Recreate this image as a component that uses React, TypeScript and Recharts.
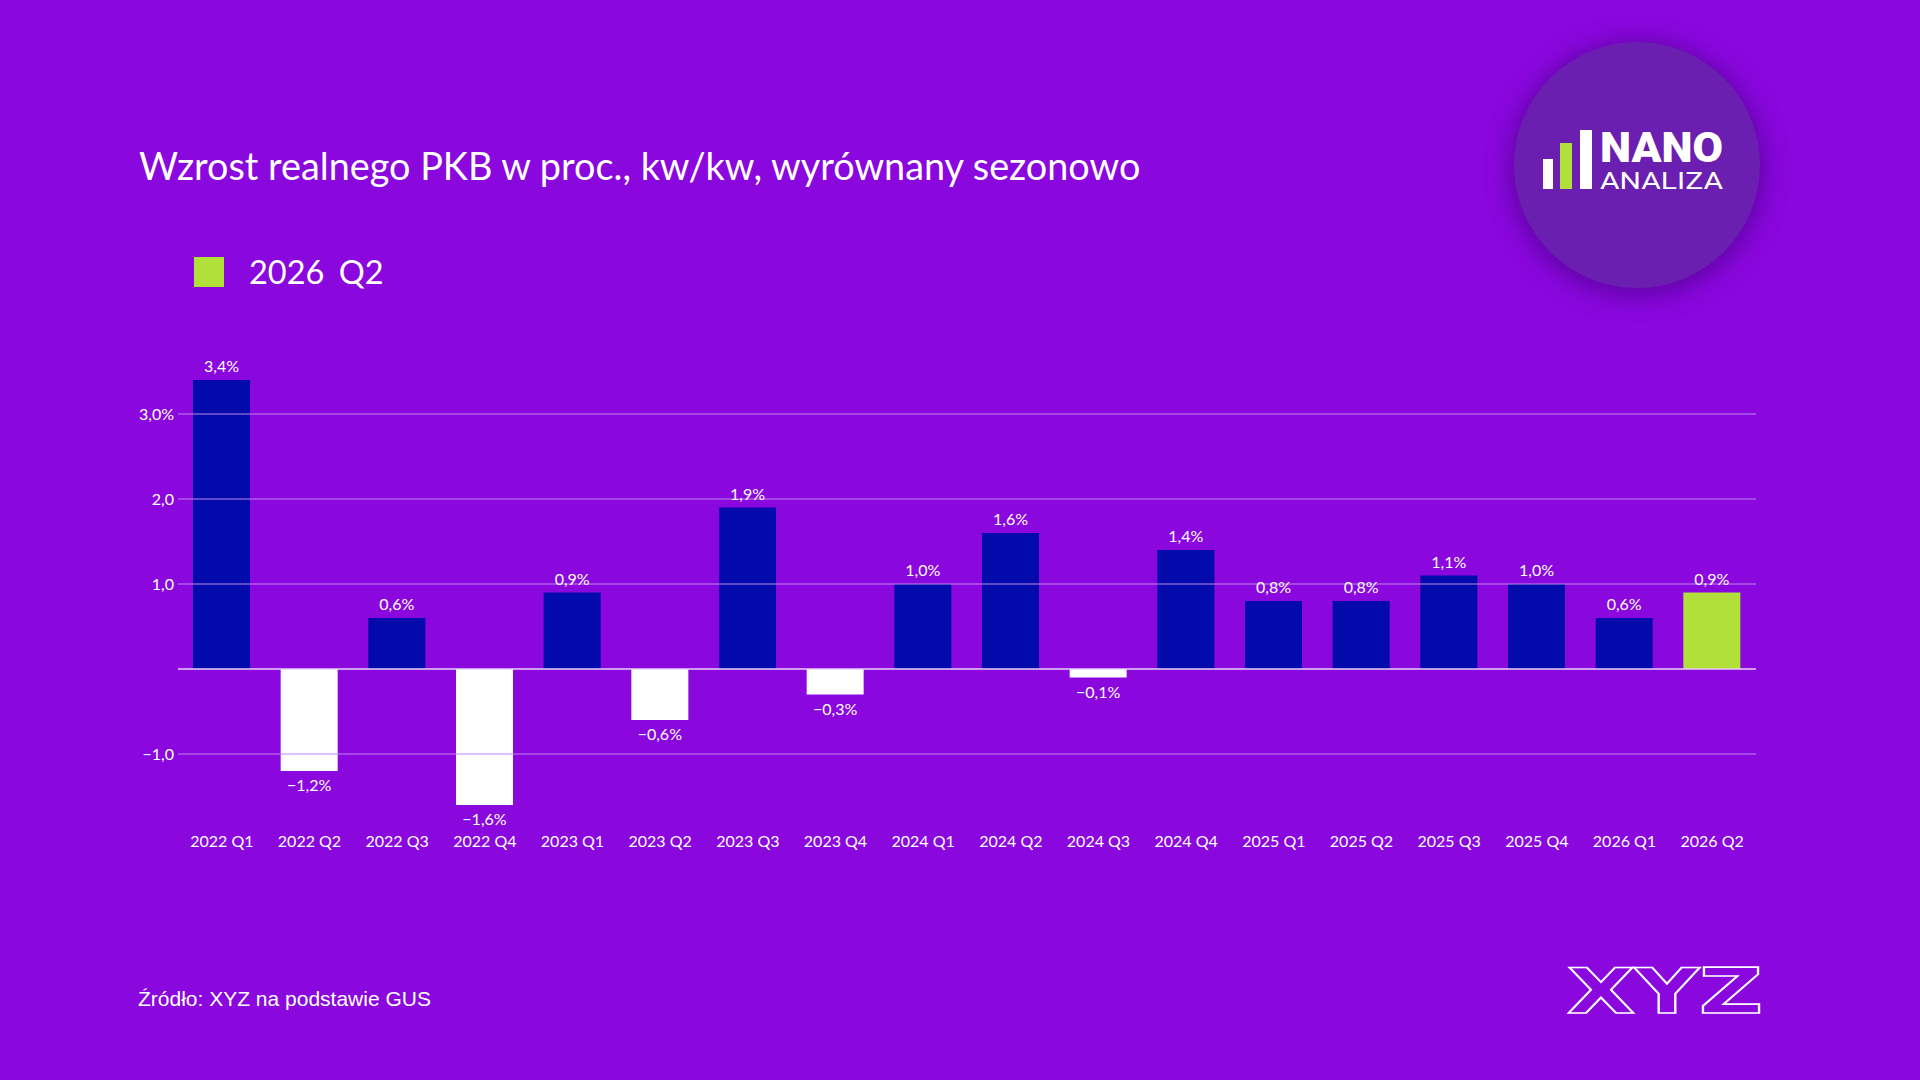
import React from "react";
import {
  BarChart,
  Bar,
  XAxis,
  YAxis,
  ReferenceLine,
  LabelList,
  Cell,
} from "recharts";

const quarters = [
  "2022 Q1", "2022 Q2", "2022 Q3", "2022 Q4",
  "2023 Q1", "2023 Q2", "2023 Q3", "2023 Q4",
  "2024 Q1", "2024 Q2", "2024 Q3", "2024 Q4",
  "2025 Q1", "2025 Q2", "2025 Q3", "2025 Q4",
  "2026 Q1", "2026 Q2",
];
const gdpGrowth = [
  3.4, -1.2, 0.6, -1.6, 0.9, -0.6, 1.9, -0.3, 1.0, 1.6, -0.1, 1.4, 0.8, 0.8,
  1.1, 1.0, 0.6, 0.9,
];
const highlightQuarter = "2026 Q2";
const yTicks = [-1, 0, 1, 2, 3];
const gridValues = [-1, 1, 2, 3];

const BG = "#8a07de";
const NAVY = "#020aac";
const LIME = "#b2e03a";
const GRID = "#bf86ec";
const FONT = "Lato, 'Open Sans', sans-serif";

const fmt = (v: number) => v.toFixed(1).replace(".", ",").replace("-", "\u2212");

const data = quarters.map((q, i) => ({ q, value: gdpGrowth[i] }));

function ValueLabel(props: any) {
  const { x, y, width, height, value } = props;
  const top = Math.min(y, y + height);
  const bottom = Math.max(y, y + height);
  const cx = x + width / 2;
  const ty = value >= 0 ? top - 8 : bottom + 20;
  return (
    <text x={cx} y={ty} textAnchor="middle" fill="#fff" fontSize={16} fontFamily={FONT}>
      {fmt(value)}%
    </text>
  );
}

export default function App() {
  return (
    <div
      style={{
        position: "absolute",
        left: 0,
        top: 0,
        width: 1920,
        height: 1080,
        background: BG,
        overflow: "hidden",
        fontFamily: FONT,
        color: "#fff",
      }}
    >
      <div style={{ position: "absolute", left: 139, top: 143, fontSize: 37.8, lineHeight: "46px" }}>
        Wzrost realnego PKB w proc., kw/kw, wyrównany sezonowo
      </div>

      <div style={{ position: "absolute", left: 194, top: 257, display: "flex", alignItems: "center" }}>
        <div style={{ width: 30, height: 30, background: LIME }} />
        <span style={{ marginLeft: 25, fontSize: 32.5, lineHeight: "30px", wordSpacing: 6 }}>
          {highlightQuarter}
        </span>
      </div>

      <div style={{ position: "absolute", left: 0, top: 0 }}>
        <BarChart
          width={1920}
          height={1080}
          data={data}
          margin={{ top: 363, right: 164, left: 118, bottom: 228 }}
        >
          <XAxis
            dataKey="q"
            interval={0}
            axisLine={false}
            tickLine={false}
            tickSize={0}
            tickMargin={14}
            height={30}
            tick={{ fill: "#fff", fontSize: 16, fontFamily: FONT }}
          />
          <YAxis
            width={60}
            domain={[-1.8, 3.6]}
            ticks={yTicks}
            axisLine={false}
            tickLine={false}
            tickSize={0}
            tickMargin={4}
            tickFormatter={(v: number) => (v === 0 ? "" : v === 3 ? fmt(v) + "%" : fmt(v))}
            tick={{ fill: "#fff", fontSize: 16, fontFamily: FONT }}
          />
          {gridValues.map((v) => (
            <ReferenceLine key={v} y={v} stroke={GRID} strokeWidth={1} />
          ))}
          <ReferenceLine y={0} stroke="#e6d0f7" strokeWidth={1.5} />
          <Bar dataKey="value" barSize={57} isAnimationActive={false}>
            {data.map((d) => (
              <Cell
                key={d.q}
                fill={d.q === highlightQuarter ? LIME : d.value < 0 ? "#ffffff" : NAVY}
              />
            ))}
            <LabelList dataKey="value" content={<ValueLabel />} />
          </Bar>
        </BarChart>
      </div>

      {/* NANO ANALIZA badge */}
      <div
        style={{
          position: "absolute",
          left: 1637 - 123,
          top: 165 - 123,
          width: 246,
          height: 246,
          borderRadius: "50%",
          background: "#6a1fb1",
          boxShadow: "0 4px 22px 6px rgba(70,0,130,0.55)",
        }}
      >
        <svg width={246} height={246}>
          <rect x={1543 - 1514} y={159 - 42} width={10} height={30} fill="#fff" />
          <rect x={1560 - 1514} y={143 - 42} width={12} height={46} fill={LIME} />
          <rect x={1580 - 1514} y={130 - 42} width={12} height={59} fill="#fff" />
          <text
            x={1600 - 1514}
            y={162 - 42}
            fill="#fff"
            fontFamily="'Roboto', 'DejaVu Sans', sans-serif"
            fontWeight={900}
            fontSize={43}
            textLength={123}
            lengthAdjust="spacingAndGlyphs"
          >
            NANO
          </text>
          <text
            x={1600 - 1514}
            y={189 - 42}
            fill="#fff"
            fontFamily="'Roboto', 'DejaVu Sans', sans-serif"
            fontSize={24}
            textLength={123}
            lengthAdjust="spacingAndGlyphs"
          >
            ANALIZA
          </text>
        </svg>
      </div>

      <div
        style={{
          position: "absolute",
          left: 138,
          top: 986,
          fontFamily: "'Liberation Sans', Arial, sans-serif",
          fontSize: 21,
          lineHeight: "25px",
        }}
      >
        Źródło: XYZ na podstawie GUS
      </div>

      <svg style={{ position: "absolute", left: 1550, top: 950 }} width={230} height={80}>
        <text
          x={17}
          y={63}
          fill="none"
          stroke="#fff"
          strokeWidth={1.6}
          fontFamily="'DejaVu Sans', sans-serif"
          fontWeight={900}
          fontSize={62}
          textLength={196}
          lengthAdjust="spacingAndGlyphs"
        >
          XYZ
        </text>
      </svg>
    </div>
  );
}
